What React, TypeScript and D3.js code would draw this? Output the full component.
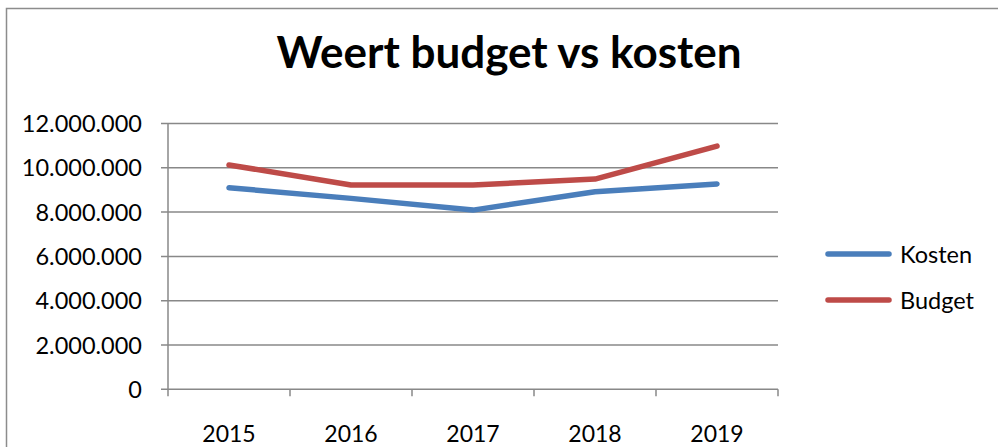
import React from "react";
import * as d3 from "d3";

const years = ["2015", "2016", "2017", "2018", "2019"];
const kosten = [9100000, 8620000, 8090000, 8920000, 9270000];
const budget = [10130000, 9220000, 9220000, 9490000, 10980000];
const yTicks = [0, 2000000, 4000000, 6000000, 8000000, 10000000, 12000000];
const seriesNames = ["Kosten", "Budget"];
const colors = ["#4A7EBB", "#BE4B48"];

const W = 998;
const H = 447;
const left = 168;
const right = 778;
const top = 123.5;
const bottom = 389.3;
const font = "Lato, 'Noto Sans', sans-serif";

export default function App() {
  const x = d3.scaleBand().domain(years).range([left, right]);
  const y = d3.scaleLinear().domain([0, 12000000]).range([bottom, top]);
  const fmt = (v: number) => d3.format(",")(v).replace(/,/g, ".");
  const line = d3
    .line<number>()
    .x((_, i) => (x(years[i]) as number) + x.bandwidth() / 2)
    .y((d) => y(d));
  const series = [kosten, budget];
  const xTickPos = [...years.map((yr) => x(yr) as number), right];

  return (
    <svg
      width={W}
      height={H}
      style={{ position: "absolute", left: 0, top: 0, background: "#fff" }}
    >
      <rect x={6.5} y={8.5} width={W + 10} height={H + 10} fill="#fff" stroke="#8c8c8c" strokeWidth={1.5} />
      <text x={509} y={68} textAnchor="middle" fontFamily={font} fontWeight={700} fontSize={44} fill="#000">
        Weert budget vs kosten
      </text>
      {yTicks.map((t) => (
        <g key={t}>
          <line x1={left - 7} x2={right} y1={y(t)} y2={y(t)} stroke="#888" strokeWidth={1.5} />
          <text x={142} y={y(t) + 8.5} textAnchor="end" fontFamily={font} fontSize={23.5} fill="#000">
            {fmt(t)}
          </text>
        </g>
      ))}
      <line x1={left} x2={left} y1={top} y2={bottom} stroke="#888" strokeWidth={1.5} />
      {xTickPos.map((p, i) => (
        <line key={i} x1={p} x2={p} y1={bottom} y2={bottom + 7} stroke="#888" strokeWidth={1.5} />
      ))}
      {years.map((yr) => (
        <text
          key={yr}
          x={(x(yr) as number) + x.bandwidth() / 2}
          y={442}
          textAnchor="middle"
          fontFamily={font}
          fontSize={23}
          fill="#000"
        >
          {yr}
        </text>
      ))}
      {series.map((s, i) => (
        <path
          key={i}
          d={line(s) as string}
          fill="none"
          stroke={colors[i]}
          strokeWidth={5.5}
          strokeLinecap="round"
          strokeLinejoin="round"
        />
      ))}
      {seriesNames.map((n, i) => (
        <g key={n}>
          <line x1={828} x2={889} y1={254 + i * 46} y2={254 + i * 46} stroke={colors[i]} strokeWidth={5.5} strokeLinecap="round" />
          <text x={900} y={254 + i * 46 + 8.5} fontFamily={font} fontSize={23.5} fill="#000">
            {n}
          </text>
        </g>
      ))}
    </svg>
  );
}
